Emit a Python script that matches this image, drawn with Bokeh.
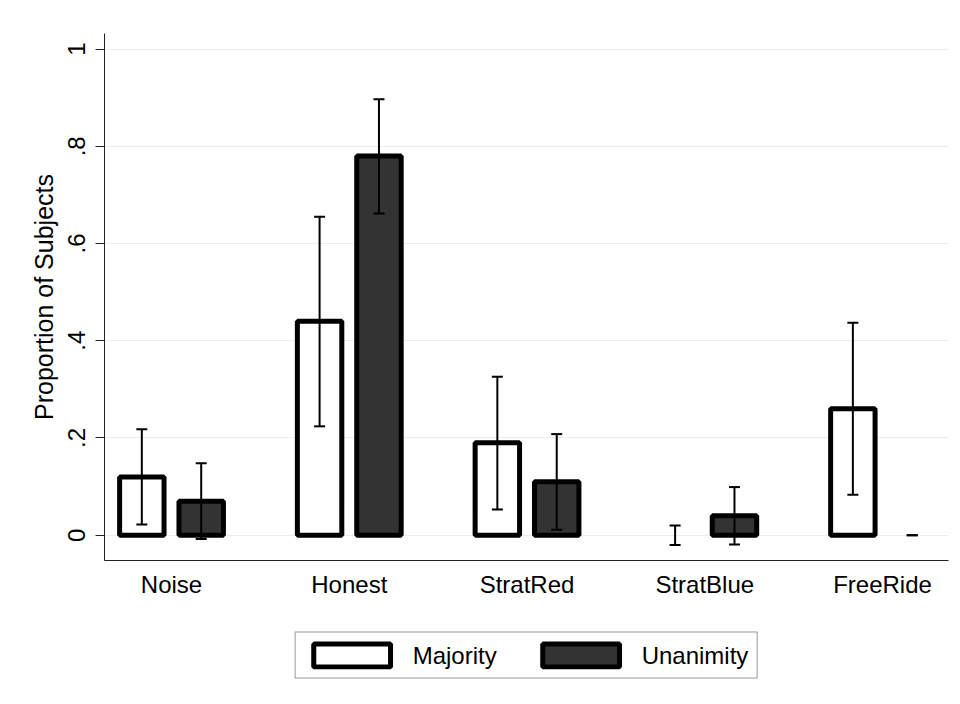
from bokeh.plotting import figure
from bokeh.layouts import column
from bokeh.models import (ColumnDataSource, Whisker, TeeHead, FixedTicker,
                          Legend, LegendItem, Range1d)
from bokeh.embed import file_html
from bokeh.resources import INLINE

categories = ["Noise", "Honest", "StratRed", "StratBlue", "FreeRide"]
majority = [0.12, 0.44, 0.19, 0.0, 0.26]
majority_lo = [0.022, 0.224, 0.053, -0.02, 0.083]
majority_hi = [0.218, 0.655, 0.326, 0.02, 0.437]
unanimity = [0.07, 0.78, 0.11, 0.04, 0.0]
unanimity_lo = [-0.008, 0.662, 0.011, -0.019, 0.0]
unanimity_hi = [0.148, 0.897, 0.208, 0.099, 0.0]
y_ticks = [0, 0.2, 0.4, 0.6, 0.8, 1.0]
y_tick_labels = ["0", ".2", ".4", ".6", ".8", "1"]
series_names = ["Majority", "Unanimity"]

FONT = "Liberation Sans"
OFF = 0.167
BW = 0.25
MAJ_STYLE = dict(fill_color="white", line_color="black", line_width=5)
UNA_STYLE = dict(fill_color="#333333", line_color="black", line_width=5)

p = figure(width=960, height=600, output_backend="svg", toolbar_location=None,
           x_range=Range1d(-0.377, 4.371), y_range=Range1d(-0.052, 1.032),
           min_border_left=104, min_border_top=33, min_border_right=12,
           min_border_bottom=37)
p.outline_line_color = None
p.background_fill_color = "white"
p.border_fill_color = "white"

idx = list(range(len(categories)))

def bar_source(vals, off):
    xs = [i + off for i, v in zip(idx, vals) if v > 0]
    ts = [v for v in vals if v > 0]
    return ColumnDataSource(dict(x=xs, top=ts))

p.vbar(x="x", top="top", bottom=0, width=BW, source=bar_source(majority, -OFF), **MAJ_STYLE)
p.vbar(x="x", top="top", bottom=0, width=BW, source=bar_source(unanimity, OFF), **UNA_STYLE)

for vals_lo, vals_hi, off in [(majority_lo, majority_hi, -OFF), (unanimity_lo, unanimity_hi, OFF)]:
    src = ColumnDataSource(dict(base=[i + off for i in idx], lower=vals_lo, upper=vals_hi))
    w = Whisker(base="base", lower="lower", upper="upper", source=src,
                line_color="black", line_width=2, level="annotation",
                upper_head=TeeHead(size=11, line_width=2, line_color="black"),
                lower_head=TeeHead(size=11, line_width=2, line_color="black"))
    p.add_layout(w)

# x axis
p.xaxis.ticker = FixedTicker(ticks=idx)
p.xaxis.major_label_overrides = {i: c for i, c in zip(idx, categories)}
p.xaxis.major_tick_line_color = None
p.xaxis.minor_tick_line_color = None
p.xaxis.axis_line_color = "#222222"
p.xaxis.major_label_text_font = FONT
p.xaxis.major_label_text_font_size = "24px"
p.xaxis.major_label_text_color = "black"
p.xaxis.major_label_standoff = 4

# y axis
p.yaxis.ticker = FixedTicker(ticks=y_ticks)
p.yaxis.major_label_overrides = {t: l for t, l in zip(y_ticks, y_tick_labels)}
p.yaxis.major_label_orientation = "vertical"
p.yaxis.minor_tick_line_color = None
p.yaxis.major_tick_out = 9
p.yaxis.major_tick_in = 0
p.yaxis.major_tick_line_color = "#222222"
p.yaxis.axis_line_color = "#222222"
p.yaxis.major_label_text_font = FONT
p.yaxis.major_label_text_font_size = "24px"
p.yaxis.major_label_text_color = "black"
p.yaxis.major_label_standoff = 10
p.yaxis.axis_label = "Proportion of Subjects"
p.yaxis.axis_label_text_font = FONT
p.yaxis.axis_label_text_font_size = "25px"
p.yaxis.axis_label_text_font_style = "normal"
p.yaxis.axis_label_text_color = "black"
p.yaxis.axis_label_standoff = 8

p.xgrid.grid_line_color = None
p.ygrid.grid_line_color = "#e6eef0"
p.ygrid.grid_line_width = 1

# legend panel below the chart (sample glyphs hidden behind the legend box)
lf = figure(width=960, height=104, output_backend="svg", toolbar_location=None,
            x_range=Range1d(0, 1), y_range=Range1d(0, 1),
            x_axis_type=None, y_axis_type=None,
            min_border_left=88, min_border_right=0, min_border_top=6,
            min_border_bottom=0)
lf.outline_line_color = None
lf.grid.visible = False
l_maj = lf.vbar(x="x", top="top", bottom="bottom", width=0.005,
                source=ColumnDataSource(dict(x=[0.5], top=[0.55], bottom=[0.45])), **MAJ_STYLE)
l_una = lf.vbar(x="x", top="top", bottom="bottom", width=0.005,
                source=ColumnDataSource(dict(x=[0.5], top=[0.55], bottom=[0.45])), **UNA_STYLE)

legend = Legend(items=[LegendItem(label=series_names[0], renderers=[l_maj]),
                       LegendItem(label=series_names[1], renderers=[l_una])],
                orientation="horizontal", location="center",
                glyph_width=96, glyph_height=29, label_standoff=13, spacing=36,
                padding=8, margin=0,
                label_text_font=FONT, label_text_font_size="24px",
                label_text_color="black",
                border_line_color="#333333", border_line_width=1,
                background_fill_color="white", background_fill_alpha=1.0)
lf.add_layout(legend, "center")

layout = column(p, lf, spacing=0)
open("out.html", "w").write(file_html(layout, INLINE))
